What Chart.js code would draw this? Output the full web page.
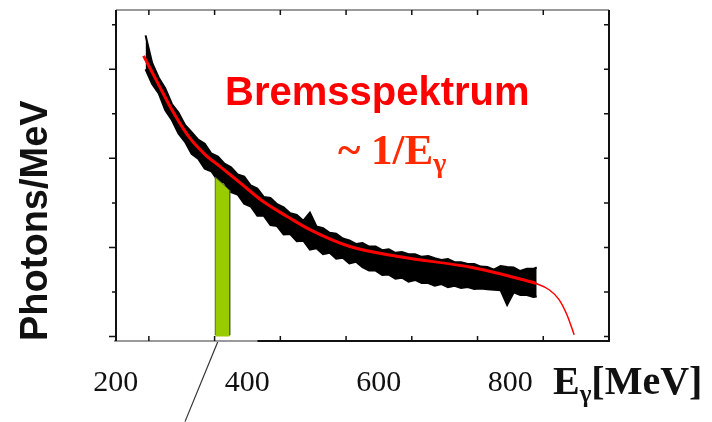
<!DOCTYPE html>
<html lang="de">
<head>
  <meta charset="UTF-8">
  <title>Bremsspektrum</title>
  <script src="https://cdn.jsdelivr.net/npm/chart.js"></script>
  <style>
    body { margin: 0; padding: 0; background: #fff; }
    canvas { display: block; }
  </style>
</head>
<body>
  <canvas id="spectrum" width="712" height="422"></canvas>

  <script>
    // measured spectrum (histogram band: upper / lower edge of the black bins)
    const binE = [195, 205, 215, 225, 235, 245, 255, 265, 275, 285, 295, 305, 315, 325, 335, 345, 355, 365, 375, 385,
                  395, 405, 415, 425, 435, 445, 455, 465, 475, 485, 495, 505, 515, 525, 535, 545, 555, 565, 575, 585,
                  595, 605, 615, 625, 635, 645, 655, 665, 675, 685, 695, 705, 715, 725, 735, 745, 755, 765, 775, 785, 790];
    const binHigh = [6.76, 6.14, 5.81, 5.57, 5.22, 5.03, 4.75, 4.59, 4.42, 4.33, 4.11, 4.04, 3.88, 3.80, 3.64, 3.59, 3.39, 3.32, 3.13, 3.11,
                     2.97, 2.90, 2.77, 2.73, 2.60, 2.78, 2.47, 2.43, 2.33, 2.31, 2.20, 2.16, 2.08, 2.10, 2.02, 2.02, 1.94, 1.96, 1.88, 1.90,
                     1.85, 1.85, 1.79, 1.81, 1.76, 1.72, 1.74, 1.67, 1.67, 1.63, 1.63, 1.57, 1.56, 1.50, 1.58, 1.56, 1.55, 1.47, 1.52, 1.52, 1.55];
    const binLow = [6.00, 5.67, 5.46, 5.08, 4.86, 4.56, 4.37, 4.10, 3.99, 3.77, 3.71, 3.50, 3.45, 3.24, 3.19, 2.98, 2.92, 2.71, 2.71, 2.50,
                    2.48, 2.29, 2.30, 2.14, 2.15, 1.95, 1.98, 1.85, 1.88, 1.75, 1.77, 1.64, 1.68, 1.56, 1.48, 1.48, 1.38, 1.39, 1.30, 1.32,
                    1.23, 1.27, 1.20, 1.20, 1.14, 1.18, 1.11, 1.14, 1.09, 1.11, 1.07, 1.08, 1.06, 1.05, 1.04, 0.71, 0.99, 0.93, 0.93, 0.89, 0.90];

    // red fit curve
    const fitE = [192, 215, 235, 261, 286, 309, 339, 374, 411, 445, 506, 582, 692, 768, 789, 809, 824, 836, 847];
    const fitY = [6.30, 5.65, 5.09, 4.48, 4.08, 3.81, 3.45, 3.03, 2.69, 2.40, 2.02, 1.79, 1.55, 1.28, 1.19, 1.05, 0.83, 0.49, 0.04];

    // green energy bin and the pointer line below it
    const windowE = [301, 301, 323, 323];
    const windowY = [0.03, 3.58, 3.28, 0.03];
    const pointerE = [305, 255];
    const pointerY = [-0.11, -1.91];

    const xTickLabels = [200, 400, 600, 800];

    const pts = (xs, ys) => xs.map((x, i) => ({ x: x, y: ys[i] }));

    // frame, inner tick marks and the free text
    const frame = {
      id: 'frame',
      afterDraw(chart) {
        const ctx = chart.ctx;
        const a = chart.chartArea;
        const xs = chart.scales.x;
        const ys = chart.scales.y;
        ctx.save();

        ctx.lineWidth = 2;
        ctx.strokeStyle = '#9a9a9a';
        ctx.beginPath();
        ctx.moveTo(a.left, a.top); ctx.lineTo(a.right, a.top);
        ctx.moveTo(a.left - 2, a.bottom); ctx.lineTo(xs.getPixelForValue(365), a.bottom);
        ctx.stroke();

        ctx.strokeStyle = '#111';
        ctx.beginPath();
        ctx.moveTo(xs.getPixelForValue(365), a.bottom); ctx.lineTo(a.right, a.bottom);
        ctx.moveTo(a.left, a.top); ctx.lineTo(a.left, a.bottom);
        ctx.moveTo(a.right, a.top); ctx.lineTo(a.right, a.bottom + 1);
        ctx.stroke();

        ctx.lineWidth = 1.5;
        ctx.beginPath();
        xs.ticks.forEach(t => {
          const px = xs.getPixelForValue(t.value);
          ctx.moveTo(px, a.top); ctx.lineTo(px, a.top + 5);
          ctx.moveTo(px, a.bottom); ctx.lineTo(px, a.bottom - 5);
        });
        ys.ticks.forEach(t => {
          const py = ys.getPixelForValue(t.value);
          const len = t.value % 2 === 0 ? 7 : 4;
          ctx.moveTo(a.left, py); ctx.lineTo(a.left - len, py);
          ctx.moveTo(a.right, py); ctx.lineTo(a.right - 5, py);
        });
        ctx.stroke();

        ctx.textBaseline = 'alphabetic';
        ctx.textAlign = 'left';

        ctx.fillStyle = '#ff0000';
        ctx.font = 'bold 40px "Liberation Sans"';
        ctx.fillText('Bremsspektrum', 225, 105);

        ctx.fillStyle = '#ff2a00';
        ctx.font = 'bold 43px "Liberation Serif"';
        const s = '~ 1/E';
        ctx.fillText(s, 338, 164);
        const w = ctx.measureText(s).width;
        ctx.font = 'bold 28px "Liberation Serif"';
        ctx.fillText('γ', 338 + w, 172);

        ctx.fillStyle = '#111';
        ctx.font = 'bold 40px "Liberation Serif"';
        ctx.fillText('E', 553, 394);
        const we = ctx.measureText('E').width;
        ctx.font = 'bold 25px "Liberation Serif"';
        ctx.fillText('γ', 553 + we, 402);
        const wg = ctx.measureText('γ').width;
        ctx.font = 'bold 40px "Liberation Serif"';
        ctx.fillText('[MeV]', 553 + we + wg, 394);

        ctx.restore();
      }
    };

    new Chart(document.getElementById('spectrum'), {
      type: 'line',
      data: {
        datasets: [
          {
            label: 'fit',
            data: pts(fitE, fitY),
            borderColor: '#ff0000',
            borderWidth: 3,
            cubicInterpolationMode: 'monotone',
            pointRadius: 0,
            order: 0,
            segment: { borderWidth: c => c.p0.parsed.x >= 789 ? 1.5 : 3 }
          },
          {
            label: 'pointer',
            data: pts(pointerE, pointerY),
            borderColor: '#333',
            borderWidth: 1.2,
            pointRadius: 0,
            clip: false,
            order: 0
          },
          {
            label: 'window',
            data: pts(windowE, windowY),
            borderColor: '#55661a',
            borderWidth: 1,
            backgroundColor: '#99cc00',
            fill: 'origin',
            pointRadius: 0,
            order: 1
          },
          {
            label: 'data high',
            data: pts(binE, binHigh),
            borderColor: '#000',
            borderWidth: 2,
            backgroundColor: '#000',
            fill: '+1',
            pointRadius: 0,
            order: 2
          },
          {
            label: 'data low',
            data: pts(binE, binLow),
            borderColor: '#000',
            borderWidth: 2,
            fill: false,
            pointRadius: 0,
            order: 3
          }
        ]
      },
      options: {
        responsive: false,
        animation: false,
        layout: { padding: { top: 10, right: 103, bottom: 0, left: 0 } },
        plugins: {
          legend: { display: false },
          tooltip: { enabled: false }
        },
        scales: {
          x: {
            type: 'linear',
            min: 150,
            max: 900,
            grid: { display: false },
            border: { display: false },
            ticks: {
              stepSize: 100,
              includeBounds: false,
              autoSkip: false,
              maxRotation: 0,
              padding: 16,
              labelOffset: -33,
              color: '#111',
              font: { family: '"Liberation Serif"', size: 30 },
              callback: v => xTickLabels.includes(v) ? String(v) : ''
            },
            afterFit: s => { s.height = 81; }
          },
          y: {
            min: -0.1,
            max: 7.33,
            grid: { display: false },
            border: { display: false },
            ticks: { display: false, stepSize: 1, includeBounds: false },
            title: {
              display: true,
              text: 'Photons/MeV',
              align: 'start',
              color: '#111',
              font: { family: '"Liberation Sans"', size: 38, weight: 'bold' },
              padding: { top: 14, bottom: 0 }
            },
            afterFit: s => { s.width = 116; }
          }
        }
      },
      plugins: [frame]
    });
  </script>
</body>
</html>
